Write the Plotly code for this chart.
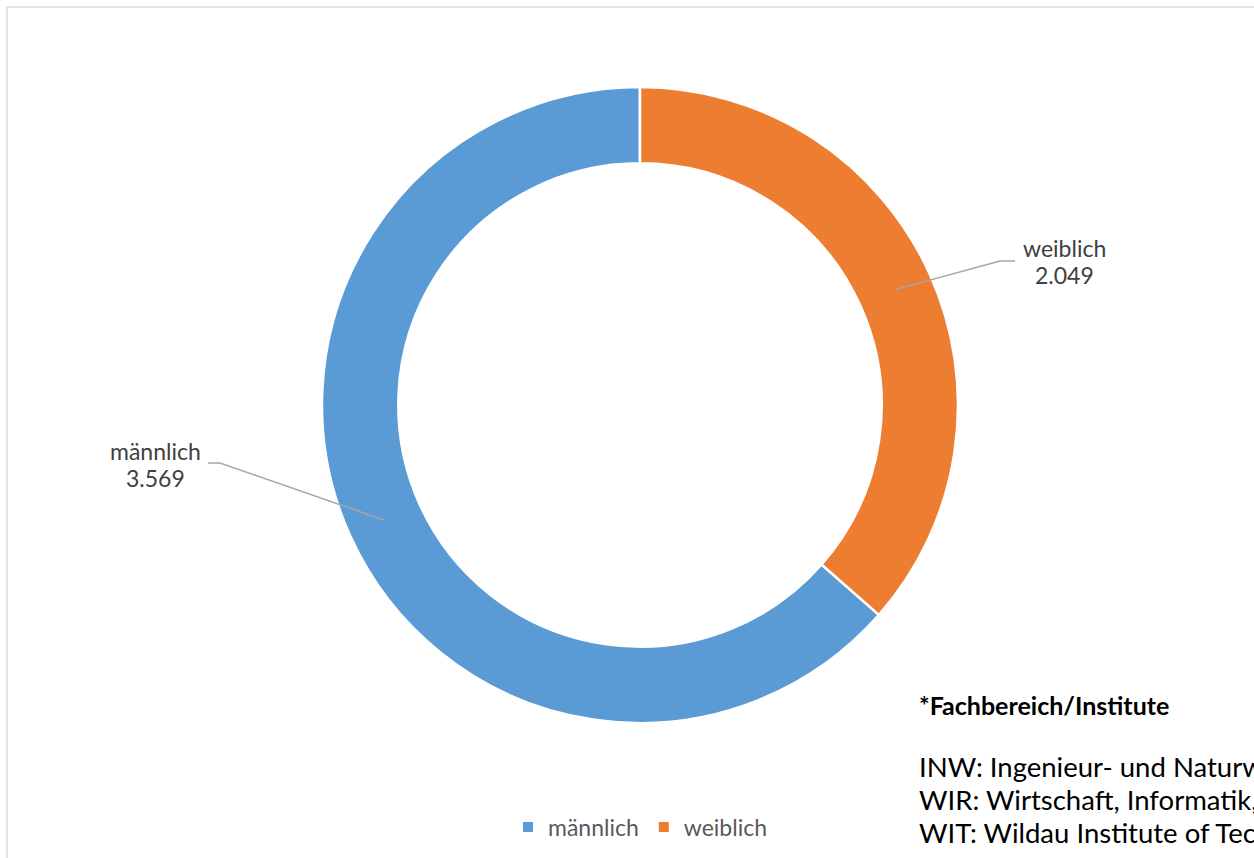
import math
import plotly.graph_objects as go

# ---- data ----
labels = ["männlich", "weiblich"]
values = [3569, 2049]
value_text = ["3.569", "2.049"]
colors = ["#5B9BD5", "#ED7D31"]

footnote_title = "*Fachbereich/Institute"
footnote_lines = [
    "INW: Ingenieur- und Naturwissenschaften",
    "WIR: Wirtschaft, Informatik, Recht",
    "WIT: Wildau Institute of Technology",
]

W, H = 1254, 858
FONT = "Lato"

# pie geometry (pixels)
cx, cy, R = 640, 405, 318
hole = 0.76

def px(x):
    return x / W

def py(y):
    return 1 - y / H

total = sum(values)
# weiblich slice starts at 12 o'clock going clockwise; männlich follows
rotation = 360 * values[1] / total

fig = go.Figure()
fig.add_trace(go.Pie(
    labels=labels, values=values, sort=False, direction="clockwise",
    rotation=rotation, hole=hole, textinfo="none", hoverinfo="label+value",
    marker=dict(colors=colors, line=dict(color="white", width=2.5)),
    domain=dict(x=[px(cx - R), px(cx + R)], y=[py(cy + R), py(cy - R)]),
    showlegend=True,
))

# leader lines + labels
r_mid = R * (1 + hole) / 2
start_angles = {"weiblich": 0.0, "männlich": rotation}
label_layout = {
    # elbow x, elbow y, end x, text center x, name center y
    "weiblich": (1000, 261, 1015, 1064, 248),
    "männlich": (220, 463, 208, 155, 451),
}
shapes = []
annotations = []
for lab, val, vt in zip(labels, values, value_text):
    a0 = start_angles[lab]
    mid = math.radians(a0 + 360 * val / total / 2)
    sx = cx + r_mid * math.sin(mid)
    sy = cy - r_mid * math.cos(mid)
    ex, ey, hx, tx, ty = label_layout[lab]
    shapes.append(dict(type="path", xref="paper", yref="paper",
                       path=f"M {px(sx)},{py(sy)} L {px(ex)},{py(ey)} L {px(hx)},{py(ey)}",
                       line=dict(color="#A6A6A6", width=1.5)))
    for j, t in enumerate([lab, vt]):
        annotations.append(dict(x=px(tx), y=py(ty + 27 * j), xref="paper", yref="paper",
                                text=t, showarrow=False,
                                xanchor="center", yanchor="middle", align="center",
                                font=dict(family=FONT, size=23, color="#404040")))

# chart border
shapes.append(dict(type="rect", xref="paper", yref="paper",
                   x0=px(7), x1=px(W + 20), y0=py(H + 20), y1=py(7),
                   line=dict(color="#D9D9D9", width=1.5)))

annotations.append(dict(x=px(917), y=py(705), xref="paper", yref="paper",
                        text=f"<b>{footnote_title}</b>", showarrow=False,
                        xanchor="left", yanchor="middle",
                        font=dict(family=FONT, size=25, color="#000000")))
for i, line in enumerate(footnote_lines):
    annotations.append(dict(x=px(917), y=py(766 + 33 * i), xref="paper", yref="paper",
                            text=line, showarrow=False,
                            xanchor="left", yanchor="middle",
                            font=dict(family=FONT, size=27.5, color="#000000")))

fig.update_layout(
    width=W, height=H,
    margin=dict(l=0, r=0, t=0, b=0),
    paper_bgcolor="white", plot_bgcolor="white",
    shapes=shapes, annotations=annotations,
    legend=dict(orientation="h", x=px(640), xanchor="center", y=py(827), yanchor="middle",
                font=dict(family=FONT, size=23, color="#595959"),
                itemsizing="constant"),
)

fig.write_html("out.html", config={"displayModeBar": False},
               post_script="document.body.style.margin='0';document.body.style.overflow='hidden';")
